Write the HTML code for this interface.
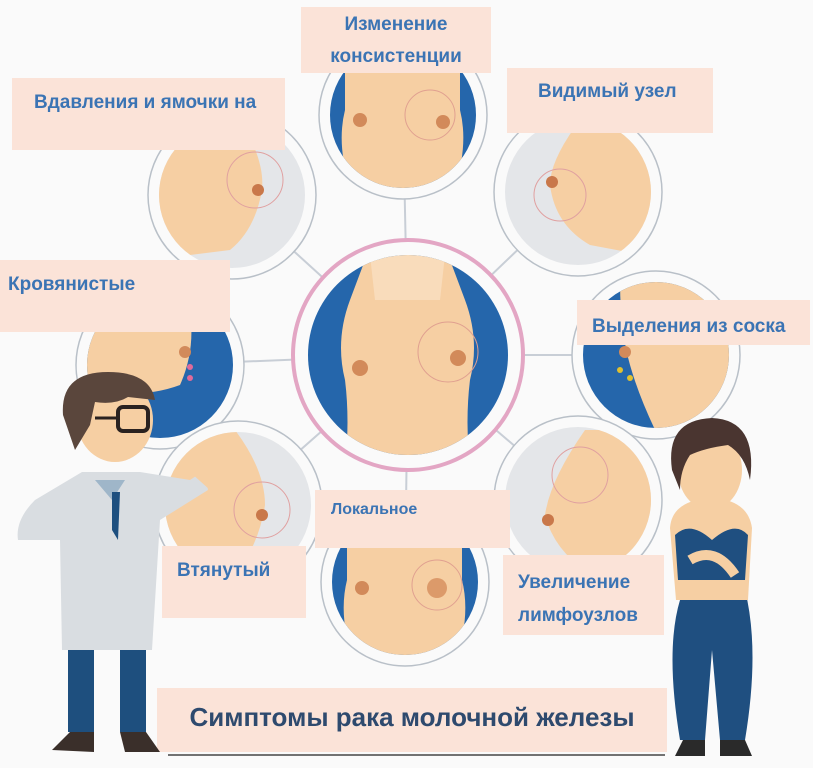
<!DOCTYPE html>
<html><head><meta charset="utf-8"><style>
html,body{margin:0;padding:0;background:#fafafa}
svg{display:block}
text{font-family:"Liberation Sans","DejaVu Sans",sans-serif;font-weight:bold}
</style></head><body>
<svg width="813" height="768" viewBox="0 0 813 768" xmlns="http://www.w3.org/2000/svg">
<rect width="813" height="768" fill="#fafafa"/>
<defs>
<clipPath id="c1"><circle cx="403" cy="115" r="73"/></clipPath>
<clipPath id="c2"><circle cx="232" cy="195" r="73"/></clipPath>
<clipPath id="c3"><circle cx="578" cy="192" r="73"/></clipPath>
<clipPath id="c4"><circle cx="160" cy="365" r="73"/></clipPath>
<clipPath id="c5"><circle cx="656" cy="355" r="73"/></clipPath>
<clipPath id="c6"><circle cx="238" cy="505" r="73"/></clipPath>
<clipPath id="c7"><circle cx="405" cy="582" r="73"/></clipPath>
<clipPath id="c8"><circle cx="578" cy="500" r="73"/></clipPath>
<clipPath id="cc"><circle cx="408" cy="355" r="100"/></clipPath>
</defs>
<g stroke="#c8ced6" stroke-width="2" fill="none">
<line x1="408" y1="355" x2="403" y2="115"/><line x1="408" y1="355" x2="232" y2="195"/>
<line x1="408" y1="355" x2="578" y2="192"/><line x1="408" y1="355" x2="160" y2="365"/>
<line x1="408" y1="355" x2="656" y2="355"/><line x1="408" y1="355" x2="238" y2="505"/>
<line x1="408" y1="355" x2="405" y2="582"/><line x1="408" y1="355" x2="578" y2="500"/>
</g>
<g fill="#fafafa" stroke="#b9c0c8" stroke-width="1.5">
<circle cx="403" cy="115" r="84"/><circle cx="232" cy="195" r="84"/><circle cx="578" cy="192" r="84"/>
<circle cx="160" cy="365" r="84"/><circle cx="656" cy="355" r="84"/><circle cx="238" cy="505" r="84"/>
<circle cx="405" cy="582" r="84"/><circle cx="578" cy="500" r="84"/>
</g>
<g clip-path="url(#c1)"><rect x="320" y="30" width="170" height="170" fill="#2566ab"/><path d="M345 40 H460 V110 Q470 150 450 200 H355 Q335 150 345 110Z" fill="#f6cfa3"/><circle cx="360" cy="120" r="7" fill="#d28a5a"/><circle cx="443" cy="122" r="7" fill="#d28a5a"/><circle cx="430" cy="115" r="25" fill="none" stroke="#e0a090"/></g>
<g clip-path="url(#c7)"><rect x="320" y="500" width="170" height="170" fill="#2566ab"/><path d="M347 505 H462 V580 Q472 620 452 670 H357 Q337 620 347 580Z" fill="#f6cfa3"/><circle cx="362" cy="588" r="7" fill="#d28a5a"/><circle cx="437" cy="588" r="10" fill="#dc9a6a"/><circle cx="437" cy="585" r="25" fill="none" stroke="#e0a090"/></g>
<g clip-path="url(#c4)"><rect x="70" y="280" width="170" height="170" fill="#2566ab"/><path d="M80 290 H185 Q200 340 180 385 Q140 400 80 390Z" fill="#f6cfa3"/><circle cx="185" cy="352" r="6" fill="#d28a5a"/><circle cx="190" cy="367" r="3" fill="#e06a9a"/><circle cx="190" cy="378" r="3" fill="#e06a9a"/></g>
<g clip-path="url(#c5)"><rect x="570" y="270" width="170" height="170" fill="#2566ab"/><path d="M620 280 H740 V440 H660 Q640 400 630 365 Q620 330 620 280Z" fill="#f6cfa3"/><circle cx="625" cy="352" r="6" fill="#d28a5a"/><circle cx="620" cy="370" r="3" fill="#e0c030"/><circle cx="630" cy="378" r="3" fill="#e0c030"/></g>
<g clip-path="url(#c2)"><rect x="150" y="110" width="170" height="170" fill="#e4e6e9"/><path d="M150 120 H240 Q265 160 262 190 Q255 230 230 250 L150 260Z" fill="#f6cfa3"/><circle cx="258" cy="190" r="6" fill="#c9784a"/><circle cx="255" cy="180" r="28" fill="none" stroke="#e0a0a0"/></g>
<g clip-path="url(#c3)"><rect x="500" y="110" width="170" height="170" fill="#e4e6e9"/><path d="M670 120 H580 Q550 160 550 185 Q555 225 590 245 L670 260Z" fill="#f6cfa3"/><circle cx="552" cy="182" r="6" fill="#c9784a"/><circle cx="560" cy="195" r="26" fill="none" stroke="#e0a0a0"/></g>
<g clip-path="url(#c6)"><rect x="155" y="420" width="170" height="170" fill="#e4e6e9"/><path d="M155 430 H235 Q265 470 265 505 Q258 550 230 580 L155 590Z" fill="#f6cfa3"/><circle cx="262" cy="515" r="6" fill="#c9784a"/><circle cx="262" cy="510" r="28" fill="none" stroke="#e0a0a0"/></g>
<g clip-path="url(#c8)"><rect x="495" y="415" width="170" height="170" fill="#e4e6e9"/><path d="M665 430 H585 Q550 480 545 515 Q555 555 600 580 L665 590Z" fill="#f6cfa3"/><circle cx="548" cy="520" r="6" fill="#c9784a"/><circle cx="580" cy="475" r="28" fill="none" stroke="#e0a0a0"/></g>
<circle cx="408" cy="355" r="115" fill="#fafafa" stroke="#e3a6c4" stroke-width="4"/>
<g clip-path="url(#cc)"><rect x="300" y="250" width="220" height="220" fill="#2566ab"/><path d="M365 260 H450 L465 300 Q480 340 470 380 Q465 420 470 470 H345 Q350 420 345 380 Q335 340 350 300Z" fill="#f6cfa3"/><path d="M370 255 H445 L440 300 H375Z" fill="#f9dcbb"/><circle cx="360" cy="368" r="8" fill="#d28a5a"/><circle cx="458" cy="358" r="8" fill="#d28a5a"/><circle cx="448" cy="352" r="30" fill="none" stroke="#e0a090"/></g>
<g fill="#fbe3d8">
<rect x="301" y="7" width="190" height="66"/>
<rect x="12" y="78" width="273" height="72"/>
<rect x="507" y="68" width="206" height="65"/>
<rect x="0" y="260" width="230" height="72"/>
<rect x="577" y="300" width="233" height="45"/>
<rect x="315" y="490" width="195" height="58"/>
<rect x="162" y="546" width="144" height="72"/>
<rect x="503" y="555" width="161" height="80"/>
<rect x="157" y="688" width="510" height="64"/>
</g>
<line x1="168" y1="755" x2="665" y2="755" stroke="#444" stroke-width="1.5"/>
<g fill="#3b74b4" font-size="19">
<text x="396" y="30" text-anchor="middle">Изменение</text>
<text x="396" y="62" text-anchor="middle">консистенции</text>
<text x="34" y="108">Вдавления и ямочки на</text>
<text x="538" y="97">Видимый узел</text>
<text x="8" y="290">Кровянистые</text>
<text x="592" y="332">Выделения из соска</text>
<text x="331" y="514" font-size="16">Локальное</text>
<text x="177" y="576">Втянутый</text>
<text x="518" y="588">Увеличение</text>
<text x="518" y="621">лимфоузлов</text>
</g>
<text x="412" y="726" text-anchor="middle" font-size="26" fill="#2e4a6e">Симптомы рака молочной железы</text>
<g>
<rect x="68" y="640" width="26" height="92" fill="#1e4f7e"/><rect x="120" y="640" width="26" height="92" fill="#1e4f7e"/>
<path d="M52 750 L70 732 H94 V752Z M120 732 H146 L160 752 H125Z" fill="#3a2f2a"/>
<path d="M82 472 H140 L190 480 L205 470 L208 490 L160 520 L152 650 H62 L60 540 L18 540 Q15 520 35 500Z" fill="#d9dde1"/>
<path d="M95 480 L112 500 L125 480Z" fill="#9fb6c9"/><path d="M112 492 L120 492 L118 540 L112 530Z" fill="#1d4f7f"/>
<ellipse cx="115" cy="420" rx="38" ry="42" fill="#f6cfa3"/>
<path d="M63 415 Q60 372 108 372 Q150 372 155 400 L128 397 Q115 405 95 402 L90 425 L75 450Z" fill="#5a463c"/>
<rect x="118" y="407" width="30" height="24" rx="5" fill="none" stroke="#2a2220" stroke-width="4"/>
<line x1="95" y1="418" x2="118" y2="418" stroke="#2a2220" stroke-width="3"/>
<path d="M190 472 Q205 455 215 465 L210 490Z" fill="#f6cfa3"/>
</g>
<g>
<path d="M680 600 Q665 650 680 740 H705 L712 650 L720 740 H745 Q760 650 745 590Z" fill="#1f4f80"/>
<path d="M683 740 H705 V756 H675Z M720 740 H745 L752 756 H720Z" fill="#2a2a2a"/>
<path d="M670 528 Q672 500 712 498 Q748 500 752 528 L748 600 H676Z" fill="#f6cfa3"/>
<path d="M675 535 Q690 520 712 540 Q735 520 748 535 L745 580 H678Z" fill="#1f4f80"/>
<ellipse cx="710" cy="470" rx="32" ry="40" fill="#f6cfa3"/>
<path d="M672 470 Q665 420 712 418 Q758 420 750 480 Q745 455 728 445 Q705 448 690 455 Q680 470 680 490Z" fill="#4a3530"/>
<path d="M690 560 Q715 545 735 575" stroke="#f6cfa3" stroke-width="10" fill="none"/>
</g>
</svg>
</body></html>
